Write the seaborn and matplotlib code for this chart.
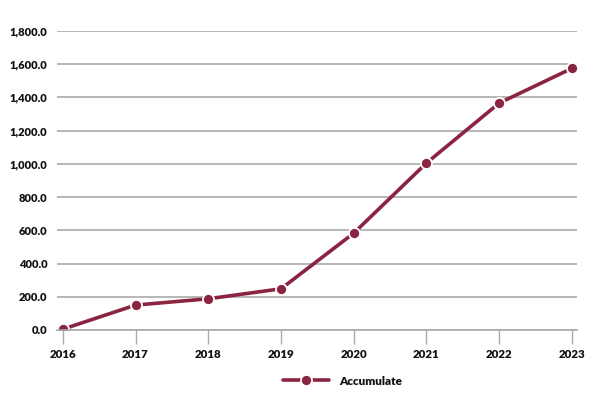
import matplotlib
matplotlib.use("Agg")
import matplotlib.pyplot as plt
import seaborn as sns
import pandas as pd
from matplotlib.ticker import FuncFormatter

years = [2016, 2017, 2018, 2019, 2020, 2021, 2022, 2023]
accumulate = [5, 150, 188, 248, 583, 1005, 1366, 1575]
series_name = "Accumulate"
y_ticks = [0, 200, 400, 600, 800, 1000, 1200, 1400, 1600, 1800]

df = pd.DataFrame({"Year": years, "Value": accumulate, "Series": series_name})

sns.set_theme(style="white")
plt.rcParams["font.family"] = ["Lato", "DejaVu Sans"]

color = "#8B2441"
fig = plt.figure(figsize=(6.01, 3.98), dpi=100)
ax = fig.add_axes([57 / 601, (398 - 330) / 398, 520 / 601, (330 - 31) / 398])

sns.lineplot(data=df, x="Year", y="Value", hue="Series", palette=[color], ax=ax,
             marker="o", markersize=8, markeredgecolor="white", markeredgewidth=1.3,
             linewidth=2.6, legend=True)

ax.set_xlim(2016 - 0.08, 2023 + 0.07)
ax.set_ylim(0, 1800)
ax.set_yticks(y_ticks)
ax.yaxis.set_major_formatter(FuncFormatter(lambda v, p: f"{v:,.1f}"))
ax.set_xticks(years)
ax.set_xticklabels([str(y) for y in years])
ax.grid(axis="y", color="#aaaaaa", linewidth=1.2)
ax.set_axisbelow(True)
for s in ["top", "right", "left"]:
    ax.spines[s].set_visible(False)
ax.spines["bottom"].set_color("#aaaaaa")
ax.spines["bottom"].set_linewidth(1.2)
ax.tick_params(axis="y", length=0, pad=7, labelsize=8)
ax.tick_params(axis="x", length=10, width=1, color="#aaaaaa", pad=4, labelsize=8.3, bottom=True, direction="out")
for lab in ax.get_xticklabels() + ax.get_yticklabels():
    lab.set_fontweight("heavy")
    lab.set_color("#111111")
ax.set_xlabel("")
ax.set_ylabel("")

handles, labels = ax.get_legend_handles_labels()
ax.get_legend().remove()
leg = fig.legend(handles, labels, loc="center", bbox_to_anchor=(0.57, 0.043), frameon=False,
                 handlelength=3.0, handletextpad=0.7)
for t in leg.get_texts():
    t.set_fontweight("heavy")
    t.set_fontsize(8.5)
    t.set_color("#111111")

fig.savefig("out.png", dpi=100)
